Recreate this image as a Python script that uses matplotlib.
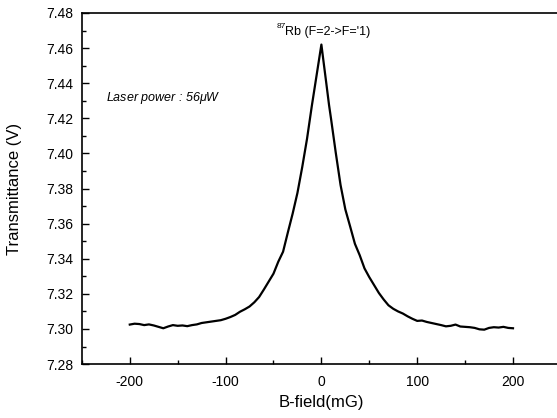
import matplotlib
matplotlib.use("Agg")
import matplotlib.pyplot as plt
from matplotlib.ticker import MultipleLocator

plt.rcParams['font.family'] = ['Liberation Sans', 'DejaVu Sans']
plt.rcParams['axes.unicode_minus'] = False
plt.rcParams['mathtext.fontset'] = 'custom'
plt.rcParams['mathtext.rm'] = 'Liberation Sans'
plt.rcParams['mathtext.it'] = 'Liberation Sans:italic'

b_field = [-200, -195, -190, -185, -180, -175, -170, -165, -160, -155,
           -150, -145, -140, -135, -130, -125, -120, -115, -110, -105,
           -100, -95, -90, -85, -80, -75, -70, -65, -60, -55,
           -50, -45, -40, -35, -30, -25, -20, -15,
           -10, -5, -2, 0, 2, 5, 8,
           10, 15, 20, 25, 30, 35, 40, 45, 50, 55,
           60, 65, 70, 75, 80, 85, 90, 95, 100, 105,
           110, 115, 120, 125, 130, 135, 140, 145, 150, 155,
           160, 165, 170, 175, 180, 185, 190, 195, 200]
transmittance = [7.3025, 7.3030, 7.3028, 7.3022, 7.3026, 7.3020, 7.3012, 7.3004, 7.3014, 7.3022,
                 7.3018, 7.3020, 7.3016, 7.3022, 7.3026, 7.3034, 7.3038, 7.3042, 7.3046, 7.3050,
                 7.3058, 7.3068, 7.3080, 7.3098, 7.3112, 7.3128, 7.3152, 7.3182, 7.3225, 7.3270,
                 7.3315, 7.3383, 7.3440, 7.3550, 7.3657, 7.3775, 7.3922, 7.4083,
                 7.4270, 7.4445, 7.4550, 7.4620, 7.4533, 7.4405, 7.4275,
                 7.4200, 7.4004, 7.3820, 7.3681, 7.3584, 7.3485, 7.3420, 7.3345, 7.3295, 7.3250,
                 7.3205, 7.3168, 7.3135, 7.3115, 7.3100, 7.3088, 7.3072, 7.3058, 7.3046, 7.3048,
                 7.3040, 7.3034, 7.3028, 7.3022, 7.3015, 7.3018, 7.3025, 7.3014, 7.3012, 7.3010,
                 7.3006, 7.2998, 7.2996, 7.3006, 7.3010, 7.3008, 7.3012, 7.3006, 7.3004]

x_ticks = [-200, -100, 0, 100, 200]
y_ticks = [7.28, 7.30, 7.32, 7.34, 7.36, 7.38, 7.40, 7.42, 7.44, 7.46, 7.48]

fig = plt.figure(figsize=(5.57, 4.18), dpi=100)
ax = fig.add_axes([0.147, 0.129, 0.86, 0.840])
ax.plot(b_field, transmittance, color='black', lw=1.6)

ax.set_xlim(-250, 250)
ax.set_ylim(7.28, 7.48)
ax.set_xticks(x_ticks)
ax.set_yticks(y_ticks)
ax.set_yticklabels([f"{v:.2f}" for v in y_ticks])
ax.xaxis.set_minor_locator(MultipleLocator(50))
ax.yaxis.set_minor_locator(MultipleLocator(0.01))
ax.tick_params(which='both', direction='in', labelsize=10, width=1.0)
ax.tick_params(which='major', length=5)
ax.tick_params(which='minor', length=3)
ax.tick_params(axis='x', pad=8)
ax.tick_params(axis='y', pad=6)
for s in ['left', 'bottom', 'top']:
    ax.spines[s].set_linewidth(1.2)
ax.spines['right'].set_visible(False)

ax.set_xlabel('B-field(mG)', fontsize=12)
ax.set_ylabel('Transmittance (V)', fontsize=12)
ax.xaxis.set_label_coords(0.5, -0.088)
ax.yaxis.set_label_coords(-0.125, 0.5)

main = ax.text(7, 7.4694, "Rb (F=2->F='1)", ha='center', va='center', fontsize=9)
ax.annotate("87", xy=(0, 0.62), xycoords=main, ha='right', va='bottom', fontsize=6)
ax.text(-225, 7.4316, "Laser power : 56$\\mu$W", ha='left', va='center', fontsize=9,
        style='italic')

fig.savefig('out.png', dpi=100)
